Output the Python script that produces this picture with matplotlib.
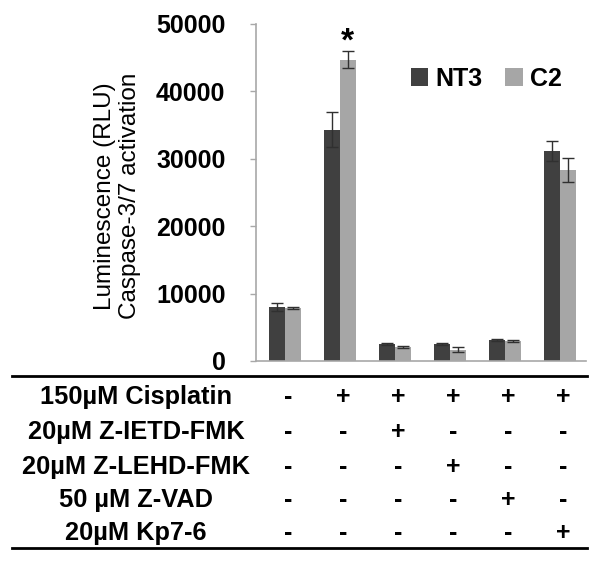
import numpy as np
import matplotlib.pyplot as plt
from matplotlib.lines import Line2D
import matplotlib.transforms as mtransforms

plt.rcParams['font.family'] = ['Liberation Sans', 'DejaVu Sans']

# values
nt3 = [8000, 34300, 2450, 2450, 3050, 31100]
nt3_err = [550, 2600, 150, 150, 150, 1500]
c2 = [7800, 44700, 2100, 1700, 2950, 28300]
c2_err = [150, 1300, 150, 300, 200, 1800]

row_labels = ["150µM Cisplatin", "20µM Z-IETD-FMK", "20µM Z-LEHD-FMK",
              "50 µM Z-VAD", "20µM Kp7-6"]
conditions = [
    ["-", "+", "+", "+", "+", "+"],
    ["-", "-", "+", "-", "-", "-"],
    ["-", "-", "-", "+", "-", "-"],
    ["-", "-", "-", "-", "+", "-"],
    ["-", "-", "-", "-", "-", "+"],
]

dark = "#404040"
light = "#a6a6a6"
spine = "#a8a8a8"

fig = plt.figure(figsize=(6, 5.62), dpi=100)
ax = fig.add_axes([0.4267, 0.3577, 0.55, 0.5996])

x = np.arange(len(nt3))
w = 0.29
ax.bar(x - w/2, nt3, w, color=dark, label="NT3")
ax.bar(x + w/2, c2, w, color=light, label="C2")
ax.errorbar(x - w/2, nt3, yerr=nt3_err, fmt="none", ecolor="#303030",
            elinewidth=1, capsize=4, capthick=1)
ax.errorbar(x + w/2, c2, yerr=c2_err, fmt="none", ecolor="#303030",
            elinewidth=1, capsize=4, capthick=1)

ax.set_xlim(-0.52, 5.48)
ax.set_ylim(0, 50000)
ax.set_yticks(range(0, 50001, 10000))
ax.set_xticks([])
for s in ["top", "right"]:
    ax.spines[s].set_visible(False)
for s in ["left", "bottom"]:
    ax.spines[s].set_color(spine)
    ax.spines[s].set_linewidth(1.2)
ax.tick_params(axis="y", colors=spine, length=4, width=1, pad=18,
               labelsize=18, labelcolor="black")
for t in ax.get_yticklabels():
    t.set_fontweight("bold")

ax.set_ylabel("Luminescence (RLU)\nCaspase-3/7 activation", fontsize=17.5,
              linespacing=1.15)
ax.yaxis.set_label_coords(-0.35, 0.49)

ax.text(1 + w/2, 47300, "*", ha="center", va="center", fontsize=24,
        fontweight="bold")

leg = ax.legend(loc="upper left", bbox_to_anchor=(0.40, 0.94), ncol=2,
                frameon=False, handlelength=0.7, handleheight=0.7,
                handletextpad=0.3, columnspacing=0.9,
                prop={"weight": "bold", "size": 18})

# condition table below the chart
fig.add_artist(Line2D([0.02, 0.978], [1 - 376/562] * 2, color="black", lw=2))
fig.add_artist(Line2D([0.02, 0.978], [1 - 548/562] * 2, color="black", lw=2))
trans = mtransforms.blended_transform_factory(ax.transData, fig.transFigure)
row_y = [397, 432, 467, 500, 533]
for label, marks, yy in zip(row_labels, conditions, row_y):
    fy = 1 - yy/562
    fig.text(136/600, fy, label, ha="center", va="center", fontsize=18.3,
             fontweight="bold")
    for xi, m in zip(x, marks):
        fig.text(xi + 0.06, fy, m, ha="center", va="center", fontsize=18,
                 fontweight="bold", transform=trans)

fig.savefig("out.png", dpi=100)
